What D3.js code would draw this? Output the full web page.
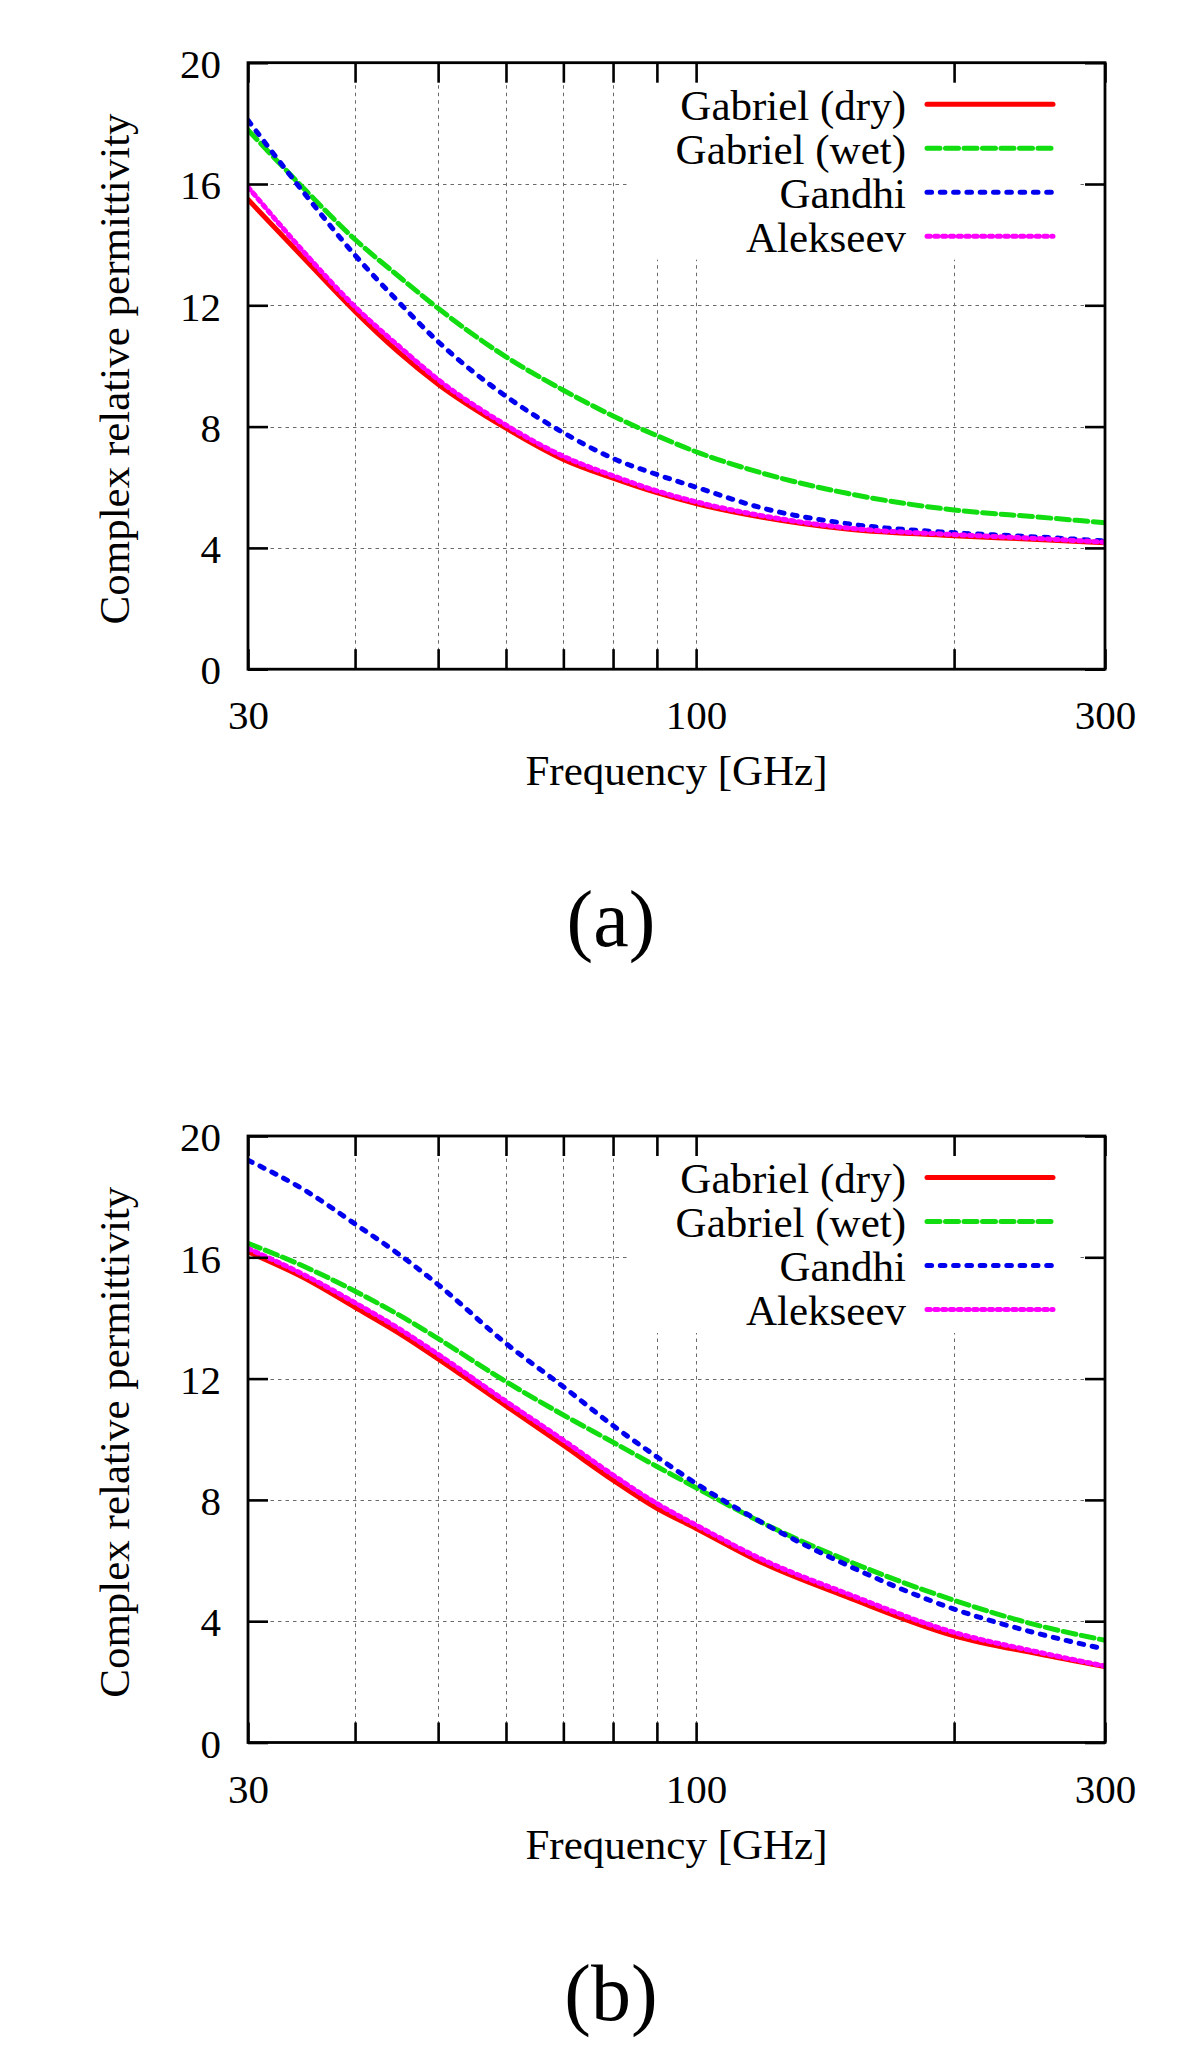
<!DOCTYPE html>
<html>
<head>
<meta charset="utf-8">
<script src="https://cdn.jsdelivr.net/npm/d3@7/dist/d3.min.js"></script>
<style>
  html, body { margin: 0; padding: 0; background: #fff; }
  svg { display: block; }
  text { font-family: "Liberation Serif", "Times New Roman", serif; fill: #000; }
</style>
</head>
<body>
<svg id="chart" width="1200" height="2071"></svg>
<script>
// ---- data ----
const freqs = [30, 35, 40, 45, 50, 60, 70, 80, 90, 100, 120, 150, 200, 250, 300];

// panel (a)
const aDry      = [15.49, 13.5, 11.8, 10.45, 9.4, 7.95, 6.92, 6.3, 5.82, 5.46, 5.0, 4.62, 4.4, 4.28, 4.17];
const aWet      = [17.78, 15.8, 14.17, 12.95, 11.9, 10.3, 9.2, 8.35, 7.7, 7.17, 6.45, 5.8, 5.25, 5.02, 4.83];
const aGandhi   = [18.1, 15.65, 13.65, 12.1, 10.8, 9.0, 7.8, 6.95, 6.42, 6.0, 5.3, 4.8, 4.5, 4.36, 4.23];
const aAlekseev = [15.9, 13.7, 11.95, 10.65, 9.55, 8.05, 7.02, 6.38, 5.88, 5.52, 5.05, 4.66, 4.44, 4.31, 4.19];

// panel (b)
const bDry      = [16.18, 15.3, 14.35, 13.5, 12.65, 11.1, 9.8, 8.65, 7.72, 7.06, 5.9, 4.8, 3.52, 2.93, 2.5];
const bWet      = [16.46, 15.68, 14.88, 14.1, 13.32, 11.9, 10.8, 9.9, 9.1, 8.4, 7.22, 6.0, 4.69, 3.87, 3.37];
const bGandhi   = [19.2, 18.2, 17.1, 16.1, 15.1, 13.16, 11.73, 10.45, 9.42, 8.54, 7.22, 5.85, 4.4, 3.6, 3.08];
const bAlekseev = [16.29, 15.4, 14.5, 13.65, 12.8, 11.25, 9.97, 8.82, 7.88, 7.17, 6.01, 4.91, 3.63, 2.99, 2.52];

const seriesNames = ["Gabriel (dry)", "Gabriel (wet)", "Gandhi", "Alekseev"];
const xTicks = [30, 40, 50, 60, 70, 80, 90, 100, 200, 300];
const xTickLabels = {30: "30", 100: "100", 300: "300"};
const xGrid = [40, 50, 60, 70, 80, 90, 100, 200];
const yTicks = [0, 4, 8, 12, 16, 20];
const yGrid = [4, 8, 12, 16];
const xTitle = "Frequency [GHz]";
const yTitle = "Complex relative permittivity";
const captions = ["(a)", "(b)"];

// ---- styles ----
const styles = [
  {color: "#ff0000", dash: null, cap: "round"},
  {color: "#11dd11", dash: "13,5.5", cap: "round"},
  {color: "#0000ee", dash: "4.6,8.7", cap: "round"},
  {color: "#ff00ff", dash: "3.2,4.6", cap: "round"}
];

const svg = d3.select("#chart");
const L = 248, R = 1105, PH = 606.5;

function drawPanel(top, seriesVals, caption, idx) {
  const bottom = top + PH;
  const x = d3.scaleLog().domain([30, 300]).range([L, R]);
  const y = d3.scaleLinear().domain([0, 20]).range([bottom, top]);
  const g = svg.append("g");

  const clipId = "clip" + idx;
  g.append("clipPath").attr("id", clipId)
    .append("rect").attr("x", L).attr("y", top).attr("width", R - L).attr("height", PH);

  // grid
  const grid = g.append("g").attr("stroke", "#6a6a6a").attr("stroke-width", 1)
    .attr("stroke-dasharray", "3.5,4").attr("fill", "none");
  grid.selectAll("line.v").data(xGrid).join("line").attr("class", "v")
    .attr("x1", d => Math.round(x(d)) + 0.5).attr("x2", d => Math.round(x(d)) + 0.5)
    .attr("y1", top).attr("y2", bottom);
  grid.selectAll("line.h").data(yGrid).join("line").attr("class", "h")
    .attr("x1", L).attr("x2", R)
    .attr("y1", d => Math.round(y(d)) + 0.5).attr("y2", d => Math.round(y(d)) + 0.5);

  // opaque legend box
  g.append("rect").attr("x", 628).attr("y", top + 4).attr("width", 452).attr("height", 193)
    .attr("fill", "#fff");

  // curves
  const line = d3.line().x((d, i) => x(freqs[i])).y(d => y(d)).curve(d3.curveMonotoneX);
  const curves = g.append("g").attr("clip-path", `url(#${clipId})`);
  seriesVals.forEach((vals, i) => {
    curves.append("path").datum(vals)
      .attr("d", line)
      .attr("fill", "none")
      .attr("stroke", styles[i].color)
      .attr("stroke-width", 5)
      .attr("stroke-linecap", styles[i].cap)
      .attr("stroke-linejoin", "round")
      .attr("stroke-dasharray", styles[i].dash);
  });

  // axes
  const fmt = d => xTickLabels[d] || "";
  const ax = g.append("g").attr("transform", `translate(0,${bottom})`)
    .call(d3.axisBottom(x).tickValues(xTicks).tickFormat(fmt).tickSize(-20).tickPadding(31));
  const axT = g.append("g").attr("transform", `translate(0,${top})`)
    .call(d3.axisTop(x).tickValues(xTicks).tickFormat("").tickSize(-20));
  const ay = g.append("g").attr("transform", `translate(${L},0)`)
    .call(d3.axisLeft(y).tickValues(yTicks).tickFormat(d3.format("d")).tickSize(-20).tickPadding(27));
  const ayR = g.append("g").attr("transform", `translate(${R},0)`)
    .call(d3.axisRight(y).tickValues(yTicks).tickFormat("").tickSize(-20));
  [ax, axT, ay, ayR].forEach(a => {
    a.select(".domain").remove();
    a.selectAll(".tick line").attr("stroke", "#000").attr("stroke-width", 2.6);
    a.selectAll(".tick text").attr("font-size", 41).attr("font-family", "Liberation Serif").attr("fill", "#000");
  });
  ay.selectAll(".tick text").attr("dy", "0.36em");

  // border
  g.append("rect").attr("x", L).attr("y", top).attr("width", R - L).attr("height", PH)
    .attr("fill", "none").attr("stroke", "#000").attr("stroke-width", 2.8);

  // legend
  const leg = g.append("g");
  seriesNames.forEach((name, i) => {
    const ly = top + 41.6 + i * 44;
    leg.append("text").attr("x", 906).attr("y", ly + 15.5)
      .attr("text-anchor", "end").attr("font-size", 43).text(name);
    leg.append("line").attr("x1", 927).attr("x2", 1053).attr("y1", ly).attr("y2", ly)
      .attr("stroke", styles[i].color).attr("stroke-width", 5)
      .attr("stroke-linecap", styles[i].cap)
      .attr("stroke-dasharray", styles[i].dash);
  });

  // titles
  g.append("text").attr("x", (L + R) / 2).attr("y", bottom + 116)
    .attr("text-anchor", "middle").attr("font-size", 43).text(xTitle);
  g.append("text").attr("transform", `translate(${129},${(top + bottom) / 2 + 3}) rotate(-90)`)
    .attr("text-anchor", "middle").attr("font-size", 43).text(yTitle);

  // caption
  g.append("text").attr("x", 611).attr("y", bottom + 277)
    .attr("text-anchor", "middle").attr("font-size", 80).text(caption);
}

drawPanel(62.7, [aDry, aWet, aGandhi, aAlekseev], captions[0], 0);
drawPanel(1136, [bDry, bWet, bGandhi, bAlekseev], captions[1], 1);
</script>
</body>
</html>
